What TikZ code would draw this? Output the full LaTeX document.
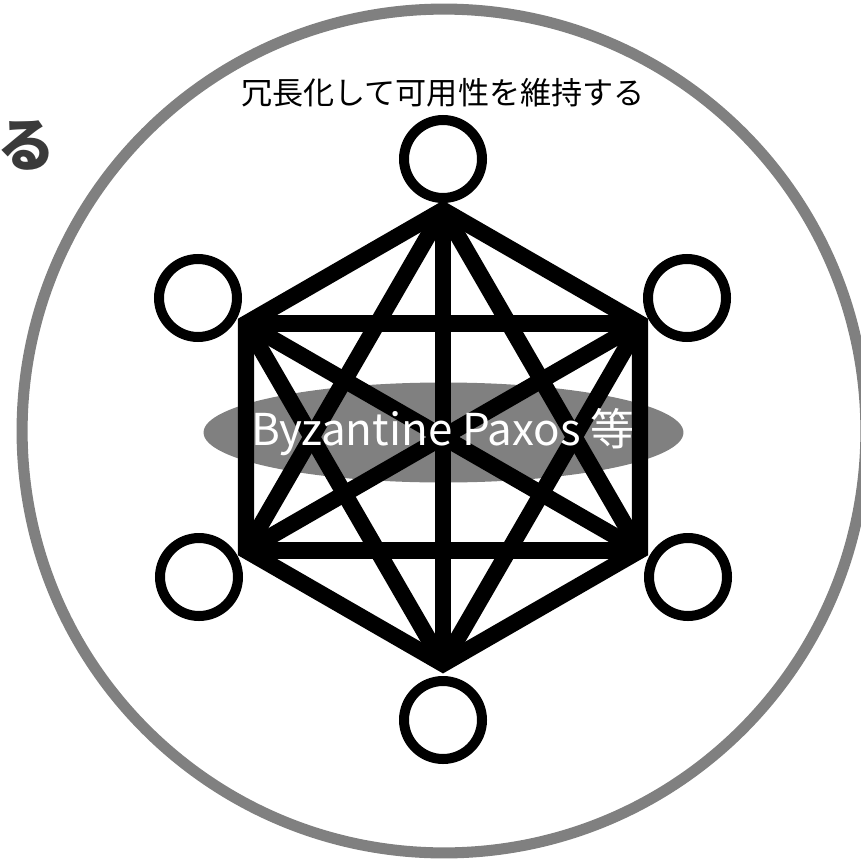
\documentclass[tikz,border=0pt]{standalone}
\usepackage{fontspec}
\newfontfamily\jpfont{Noto Sans CJK JP}
\usetikzlibrary{shapes.geometric}
\definecolor{darktext}{HTML}{3A3A3A}
\tikzset{
	station/.style={shape=circle, draw, line width=5.7pt, fill=white, minimum size=1.56cm, inner sep=0pt},
	mesh/.style={line width=9.3pt, line join=miter}
}
\begin{document}
\begin{tikzpicture}[x=0.02cm, y=-0.02cm]
	\useasboundingbox (0, 0) rectangle (861, 858);
	% Outer ring and clipped heading:
	\node[shape=circle, draw=gray, line width=6.3pt, minimum size=16.88cm, inner sep=0pt] (ring) at (444, 431){};
	\node[anchor=east, inner sep=0pt, text=darktext, font=\jpfont\bfseries\fontsize{33}{36}\selectfont] (tail) at (56, 146){る};
	\node[anchor=center, inner sep=0pt, font=\jpfont\fontsize{17.7}{20}\selectfont] (title) at (443, 93){冗長化して可用性を維持する};
	% Ellipse behind the mesh:
	\node[shape=ellipse, fill=gray, minimum width=9.6cm, minimum height=2cm, inner sep=0pt] (band) at (443.5, 432.5){};
	% Hexagon corners:
	\coordinate (vT) at (443, 210);
	\coordinate (vUR) at (640, 323.5);
	\coordinate (vLR) at (640, 550.5);
	\coordinate (vB) at (443, 664);
	\coordinate (vLL) at (246, 550.5);
	\coordinate (vUL) at (246, 323.5);
	% Mesh of links:
	\draw[mesh] (vT) -- (vUR) -- (vLR) -- (vB) -- (vLL) -- (vUL) -- cycle;
	\draw[mesh] (vUL) -- (vUR);
	\draw[mesh] (vLL) -- (vLR);
	\draw[mesh] (vUL) -- (vLR);
	\draw[mesh] (vUR) -- (vLL);
	\draw[mesh] (vT) -- (vB);
	\draw[mesh] (vT) -- (vLL);
	\draw[mesh] (vT) -- (vLR);
	\draw[mesh] (vB) -- (vUL);
	\draw[mesh] (vB) -- (vUR);
	% Replicas:
	\node[station] (sT) at (443, 159){};
	\node[station] (sUR) at (687, 298){};
	\node[station] (sLR) at (688, 577){};
	\node[station] (sB) at (443, 720){};
	\node[station] (sLL) at (199, 577){};
	\node[station] (sUL) at (198, 298){};
	% Label on the ellipse:
	\node[anchor=base, inner sep=0pt, text=white, font=\jpfont\fontsize{25}{28}\selectfont] (algo) at (443, 445){Byzantine Paxos 等};
\end{tikzpicture}
\end{document}
